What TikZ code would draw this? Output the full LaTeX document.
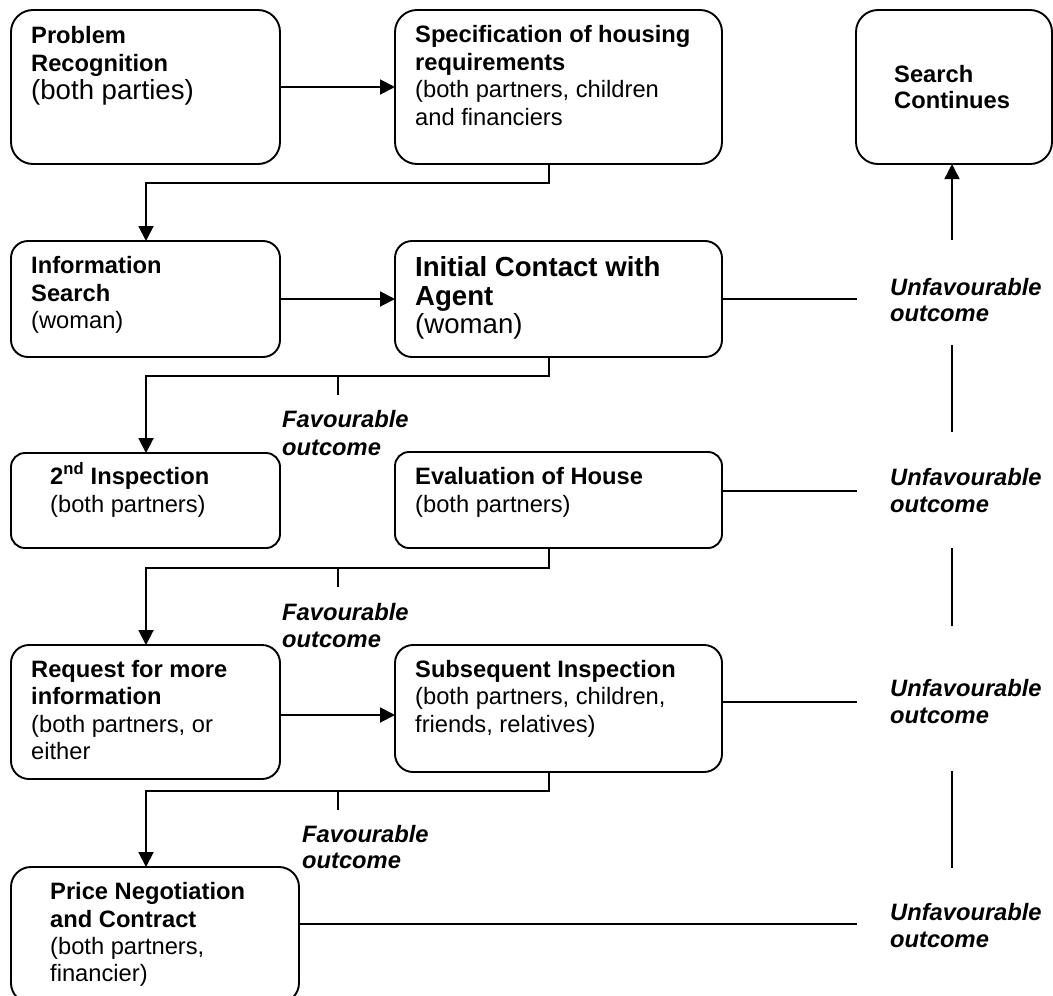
\documentclass[tikz,border=0pt]{standalone}
\usepackage{fontspec}
\setmainfont{Liberation Sans}
\usetikzlibrary{arrows.meta,calc}
\tikzset{
  box/.style={draw, line width=1.9pt, rounded corners=#1, inner sep=0pt, outer sep=0pt},
  box/.default=18pt,
  conn/.style={line width=1.9pt},
  arr/.style={-{Triangle[length=15pt,width=15pt]}},
  thinl/.style={line width=1.4pt},
  txt/.style={anchor=base west, inner sep=0pt},
  b/.style={font=\fontsize{23.7}{28}\selectfont\bfseries},
  r/.style={font=\fontsize{23.7}{28}\selectfont},
  BB/.style={font=\fontsize{27.6}{32}\selectfont\bfseries},
  RR/.style={font=\fontsize{27.6}{32}\selectfont},
  bi/.style={font=\fontsize{23.7}{28}\selectfont\bfseries\itshape}
}
\newcommand\tl[5]{\node[txt,#4] (#1) at (#2,#3) {#5};}
\begin{document}
\begin{tikzpicture}[x=1pt,y=-1pt]
\fill[white] (0,0) rectangle (1053,996);
\useasboundingbox (0,0) rectangle (1053,996);

% columns / rows
\coordinate (cx) at (549,0);
\coordinate (lx) at (146,0);
\coordinate (tx) at (338,0);
\coordinate (ux) at (857,0);
\coordinate (vx) at (952,0);

% boxes
\node[box=22pt, minimum width=269pt, minimum height=154pt] (A) at (145.5,87) {};
\node[box=22pt, minimum width=327pt, minimum height=154pt] (B) at (558.5,87) {};
\node[box=22pt, minimum width=196pt, minimum height=154pt] (S) at (954,87) {};
\node[box=17pt, minimum width=269pt, minimum height=116pt] (C) at (145.5,299) {};
\node[box=17pt, minimum width=327pt, minimum height=116pt] (D) at (558.5,299) {};
\node[box=14pt, minimum width=269pt, minimum height=95pt] (E) at (145.5,500.5) {};
\node[box=14pt, minimum width=327pt, minimum height=96pt] (F) at (558.5,500) {};
\node[box=18pt, minimum width=269pt, minimum height=134pt] (G) at (145.5,712) {};
\node[box=18pt, minimum width=327pt, minimum height=127pt] (H) at (558.5,708.5) {};
\node[box=20pt, minimum width=288pt, minimum height=136pt] (I) at (155,935) {};

% texts
\tl{A1}{31}{43}{b}{Problem}
\tl{A2}{31}{71}{b}{Recognition}
\tl{A3}{31}{99}{RR}{(both parties)}

\tl{B1}{415}{42}{b}{Specification of housing}
\tl{B2}{415}{70}{b}{requirements}
\tl{B3}{415}{97}{r}{(both partners, children}
\tl{B4}{415}{125}{r}{and financiers}

\tl{S1}{894}{82}{b}{Search}
\tl{S2}{894}{108}{b}{Continues}

\tl{C1}{31}{273}{b}{Information}
\tl{C2}{31}{301}{b}{Search}
\tl{C3}{31}{328}{r}{(woman)}

\tl{D1}{415}{276}{BB}{Initial Contact with}
\tl{D2}{415}{305}{BB}{Agent}
\tl{D3}{415}{333}{RR}{(woman)}

\tl{E1}{50}{484}{b}{2\textsuperscript{nd} Inspection}
\tl{E2}{50}{512}{r}{(both partners)}

\tl{F1}{415}{484}{b}{Evaluation of House}
\tl{F2}{415}{512}{r}{(both partners)}

\tl{G1}{31}{677}{b}{Request for more}
\tl{G2}{31}{704}{b}{information}
\tl{G3}{31}{732}{r}{(both partners, or}
\tl{G4}{31}{759}{r}{either}

\tl{H1}{415}{677}{b}{Subsequent Inspection}
\tl{H2}{415}{704}{r}{(both partners, children,}
\tl{H3}{415}{732}{r}{friends, relatives)}

\tl{I1}{50}{899}{b}{Price Negotiation}
\tl{I2}{50}{927}{b}{and Contract}
\tl{I3}{50}{954}{r}{(both partners,}
\tl{I4}{50}{981}{r}{financier)}

% favourable labels
\tl{FA1}{282}{427}{bi}{Favourable}
\tl{FA2}{282}{455}{bi}{outcome}
\tl{FB1}{282}{620}{bi}{Favourable}
\tl{FB2}{282}{647}{bi}{outcome}
\tl{FC1}{302}{842}{bi}{Favourable}
\tl{FC2}{302}{868}{bi}{outcome}

% unfavourable labels
\tl{U21}{890}{295}{bi}{Unfavourable}
\tl{U22}{890}{321}{bi}{outcome}
\tl{U31}{890}{485}{bi}{Unfavourable}
\tl{U32}{890}{512}{bi}{outcome}
\tl{U41}{890}{696}{bi}{Unfavourable}
\tl{U42}{890}{723}{bi}{outcome}
\tl{U51}{890}{920}{bi}{Unfavourable}
\tl{U52}{890}{947}{bi}{outcome}

% horizontal arrows
\draw[conn,arr] (A) -- (B);
\draw[conn,arr] (C) -- (D);
\coordinate (yG) at (0,715);
\draw[conn,arr] (G.east |- yG) -- (H.west |- yG);

% downward connectors
\draw[conn,arr] (B.south -| cx) -- ++(0,19) -| (C.north -| lx);
\draw[conn,arr] (D.south -| cx) -- ++(0,19) -| (E.north -| lx);
\draw[conn] ($(tx |- D.south)+(0,19)$) -- ++(0,19);
\draw[conn,arr] (F.south -| cx) -- ++(0,20) -| (G.north -| lx);
\draw[conn] ($(tx |- F.south)+(0,20)$) -- ++(0,19);
\draw[conn,arr] (H.south -| cx) -- ++(0,19) -| (I.north -| lx);
\draw[conn] ($(tx |- H.south)+(0,19)$) -- ++(0,19);

% unfavourable lines
\coordinate (y3) at (0,491);
\coordinate (y4) at (0,702);
\coordinate (y5) at (0,924);
\draw[thinl] (D.east) -- (ux |- D.east);
\draw[thinl] (F.east |- y3) -- (ux |- y3);
\draw[thinl] (H.east |- y4) -- (ux |- y4);
\draw[thinl] (I.east |- y5) -- (ux |- y5);

% vertical return line
\coordinate (v0) at (952,240);
\draw[thinl,arr] (v0) -- (v0 |- S.south);
\coordinate (v1a) at (952,345);
\coordinate (v1b) at (952,432);
\draw[thinl] (v1a) -- (v1b);
\coordinate (v2a) at (952,548);
\coordinate (v2b) at (952,626);
\draw[thinl] (v2a) -- (v2b);
\coordinate (v3a) at (952,771);
\coordinate (v3b) at (952,868);
\draw[thinl] (v3a) -- (v3b);
\end{tikzpicture}
\end{document}
